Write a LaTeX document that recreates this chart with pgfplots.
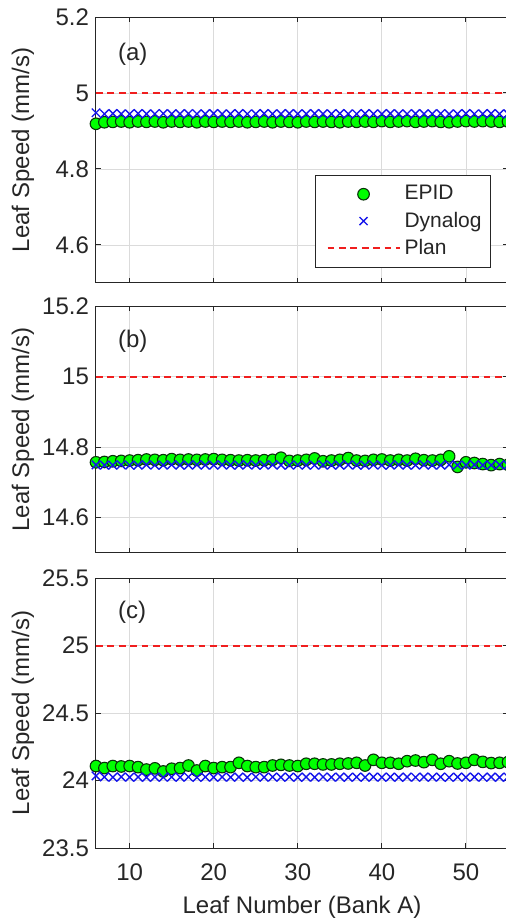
\documentclass[border=0pt]{standalone}
\usepackage{pgfplots}
\pgfplotsset{compat=1.18}
\usepackage{pgfplotstable}
\usepackage{fontspec}
\setmainfont{Liberation Sans}

\definecolor{epidg}{RGB}{0,255,0}
\definecolor{epide}{RGB}{10,50,10}
\definecolor{dynb}{RGB}{20,20,235}
\definecolor{planr}{RGB}{240,30,30}

% leaf  epid   dyn
\pgfplotstableread{
leaf epid dyn
6 4.919 4.948
7 4.923 4.945
8 4.924 4.946
9 4.925 4.945
10 4.923 4.945
11 4.925 4.946
12 4.924 4.945
13 4.925 4.945
14 4.923 4.946
15 4.925 4.945
16 4.924 4.945
17 4.925 4.946
18 4.923 4.945
19 4.925 4.945
20 4.924 4.946
21 4.925 4.945
22 4.924 4.945
23 4.925 4.946
24 4.923 4.945
25 4.924 4.945
26 4.925 4.946
27 4.923 4.945
28 4.925 4.945
29 4.924 4.946
30 4.923 4.945
31 4.925 4.945
32 4.924 4.946
33 4.925 4.945
34 4.924 4.945
35 4.923 4.946
36 4.925 4.945
37 4.924 4.945
38 4.925 4.946
39 4.924 4.945
40 4.926 4.945
41 4.924 4.946
42 4.925 4.945
43 4.926 4.945
44 4.924 4.946
45 4.925 4.945
46 4.926 4.945
47 4.924 4.946
48 4.923 4.945
49 4.925 4.945
50 4.926 4.946
51 4.925 4.945
52 4.926 4.945
53 4.925 4.946
54 4.924 4.945
55 4.925 4.945
}\dataA

\pgfplotstableread{
leaf epid dyn
6 14.757 14.750
7 14.758 14.749
8 14.760 14.749
9 14.761 14.750
10 14.762 14.749
11 14.763 14.749
12 14.765 14.750
13 14.764 14.749
14 14.763 14.749
15 14.766 14.750
16 14.764 14.749
17 14.765 14.749
18 14.764 14.750
19 14.765 14.749
20 14.766 14.749
21 14.764 14.750
22 14.763 14.749
23 14.762 14.749
24 14.763 14.750
25 14.762 14.749
26 14.763 14.749
27 14.764 14.750
28 14.770 14.749
29 14.761 14.749
30 14.762 14.750
31 14.764 14.749
32 14.768 14.749
33 14.760 14.750
34 14.762 14.749
35 14.764 14.749
36 14.769 14.750
37 14.762 14.749
38 14.761 14.749
39 14.764 14.750
40 14.765 14.749
41 14.762 14.749
42 14.764 14.750
43 14.762 14.749
44 14.767 14.749
45 14.763 14.750
46 14.762 14.749
47 14.764 14.749
48 14.774 14.750
49 14.744 14.749
50 14.757 14.749
51 14.755 14.750
52 14.752 14.749
53 14.749 14.749
54 14.752 14.750
55 14.750 14.749
}\dataB

\pgfplotstableread{
leaf epid dyn
6 24.107 24.035
7 24.092 24.026
8 24.107 24.024
9 24.104 24.027
10 24.107 24.024
11 24.099 24.026
12 24.081 24.023
13 24.090 24.026
14 24.067 24.024
15 24.087 24.026
16 24.092 24.024
17 24.111 24.026
18 24.074 24.023
19 24.107 24.026
20 24.092 24.024
21 24.099 24.026
22 24.099 24.024
23 24.131 24.026
24 24.107 24.023
25 24.099 24.026
26 24.099 24.024
27 24.111 24.026
28 24.116 24.024
29 24.111 24.026
30 24.107 24.023
31 24.124 24.026
32 24.124 24.024
33 24.119 24.026
34 24.119 24.024
35 24.124 24.026
36 24.126 24.023
37 24.131 24.026
38 24.111 24.024
39 24.153 24.026
40 24.131 24.024
41 24.131 24.026
42 24.124 24.023
43 24.143 24.026
44 24.148 24.024
45 24.136 24.026
46 24.153 24.024
47 24.124 24.026
48 24.143 24.023
49 24.126 24.026
50 24.131 24.024
51 24.153 24.026
52 24.138 24.024
53 24.129 24.026
54 24.131 24.023
55 24.136 24.026
}\dataC

\tikzset{panlab/.style={font=\fontsize{12}{14}\selectfont, text=black!85, anchor=west}}

\pgfplotsset{
  panel/.style={
    scale only axis, width=206pt,
    xmin=6, xmax=55,
    xtick={10,20,30,40,50},
    grid=major,
    major grid style={black!14, line width=0.4pt},
    tick align=inside,
    major tick length=2.5pt,
    axis line style={black!85, line width=0.5pt},
    every tick/.style={black!85, line width=0.5pt},
    tick label style={font=\fontsize{12}{14}\selectfont, text=black!85},
    /pgf/number format/assume math mode=true,
    ylabel={Leaf Speed (mm/s)},
    every axis y label/.style={at={(rel axis cs:0,0.5)}, xshift=-36.5pt, rotate=90, anchor=center,
      font=\fontsize{12}{14}\selectfont, text=black!85},
    xticklabel style={yshift=-4.5pt},
    clip=false,
  },
  epidstyle/.style={only marks, mark=*, mark size=2.9pt,
    mark options={fill=epidg, draw=epide, line width=0.55pt}},
  dynstyle/.style={only marks, mark=x, mark size=3.0pt,
    mark options={draw=dynb, line width=0.7pt}},
  planstyle/.style={planr, line width=1pt, dash pattern=on 3.4pt off 2.3pt},
  epidleg/.style={legend image code/.code={%
    \path (-3pt,0pt) (36pt,0pt);
    \path[fill=epidg, draw=epide, line width=0.55pt] (18pt,0pt) circle[radius=2.9pt];}},
  dynleg/.style={legend image code/.code={%
    \path (-3pt,0pt) (36pt,0pt);
    \draw[dynb, line width=0.7pt] (16pt,-2pt) -- (20pt,2pt) (16pt,2pt) -- (20pt,-2pt);}},
  planleg/.style={legend image code/.code={%
    \path (-3pt,0pt) (36pt,0pt);
    \draw[planr, line width=1pt, dash pattern=on 3.4pt off 2.3pt] (0pt,0pt) -- (36pt,0pt);}},
}

\begin{document}
\begin{tikzpicture}
% panel (a)
\begin{axis}[panel, at={(0pt,318.5pt)}, anchor=south west, height=133pt,
  ymin=4.5, ymax=5.2, ytick={4.6,4.8,5,5.2}, xticklabels={},
  legend style={at={(rel axis cs:0.959,0.406)}, anchor=north east,
    draw=black!85, line width=0.5pt, fill=white,
    font=\fontsize{10.5}{12}\selectfont, text=black!85,
    inner xsep=2.5pt, inner ysep=3pt, row sep=0.5pt,
    cells={anchor=west}},
  legend cell align=left]
\addplot[epidstyle, epidleg] table[x=leaf,y=epid]{\dataA};
\addlegendentry{EPID}
\addplot[dynstyle, dynleg] table[x=leaf,y=dyn]{\dataA};
\addlegendentry{Dynalog}
\addplot[planstyle, planleg] coordinates {(6,5) (55,5)};
\addlegendentry{Plan}
\node[panlab] at ([xshift=7.5pt,yshift=-18.5pt]rel axis cs:0,1) {(a)};
\end{axis}
% panel (b)
\begin{axis}[panel, at={(0pt,183.5pt)}, anchor=south west, height=123.5pt,
  ymin=14.5, ymax=15.2, ytick={14.6,14.8,15,15.2}, xticklabels={}]
\addplot[epidstyle] table[x=leaf,y=epid]{\dataB};
\addplot[dynstyle] table[x=leaf,y=dyn]{\dataB};
\addplot[planstyle] coordinates {(6,15) (55,15)};
\node[panlab] at ([xshift=7.5pt,yshift=-17.5pt]rel axis cs:0,1) {(b)};
\end{axis}
% panel (c)
\begin{axis}[panel, at={(0pt,36pt)}, anchor=south west, height=135pt,
  ymin=23.5, ymax=25.5, ytick={23.5,24,24.5,25,25.5},
  xlabel={Leaf Number (Bank A)},
  every axis x label/.style={at={(rel axis cs:0.5,0)}, yshift=-29.5pt, anchor=center,
    font=\fontsize{12}{14}\selectfont, text=black!85}]
\addplot[epidstyle] table[x=leaf,y=epid]{\dataC};
\addplot[dynstyle] table[x=leaf,y=dyn]{\dataC};
\addplot[planstyle] coordinates {(6,25) (55,25)};
\node[panlab] at ([xshift=7.5pt,yshift=-17pt]rel axis cs:0,1) {(c)};
\end{axis}
\pgfresetboundingbox
\useasboundingbox (-48pt,0pt) rectangle (205pt,460pt);
\end{tikzpicture}
\end{document}
